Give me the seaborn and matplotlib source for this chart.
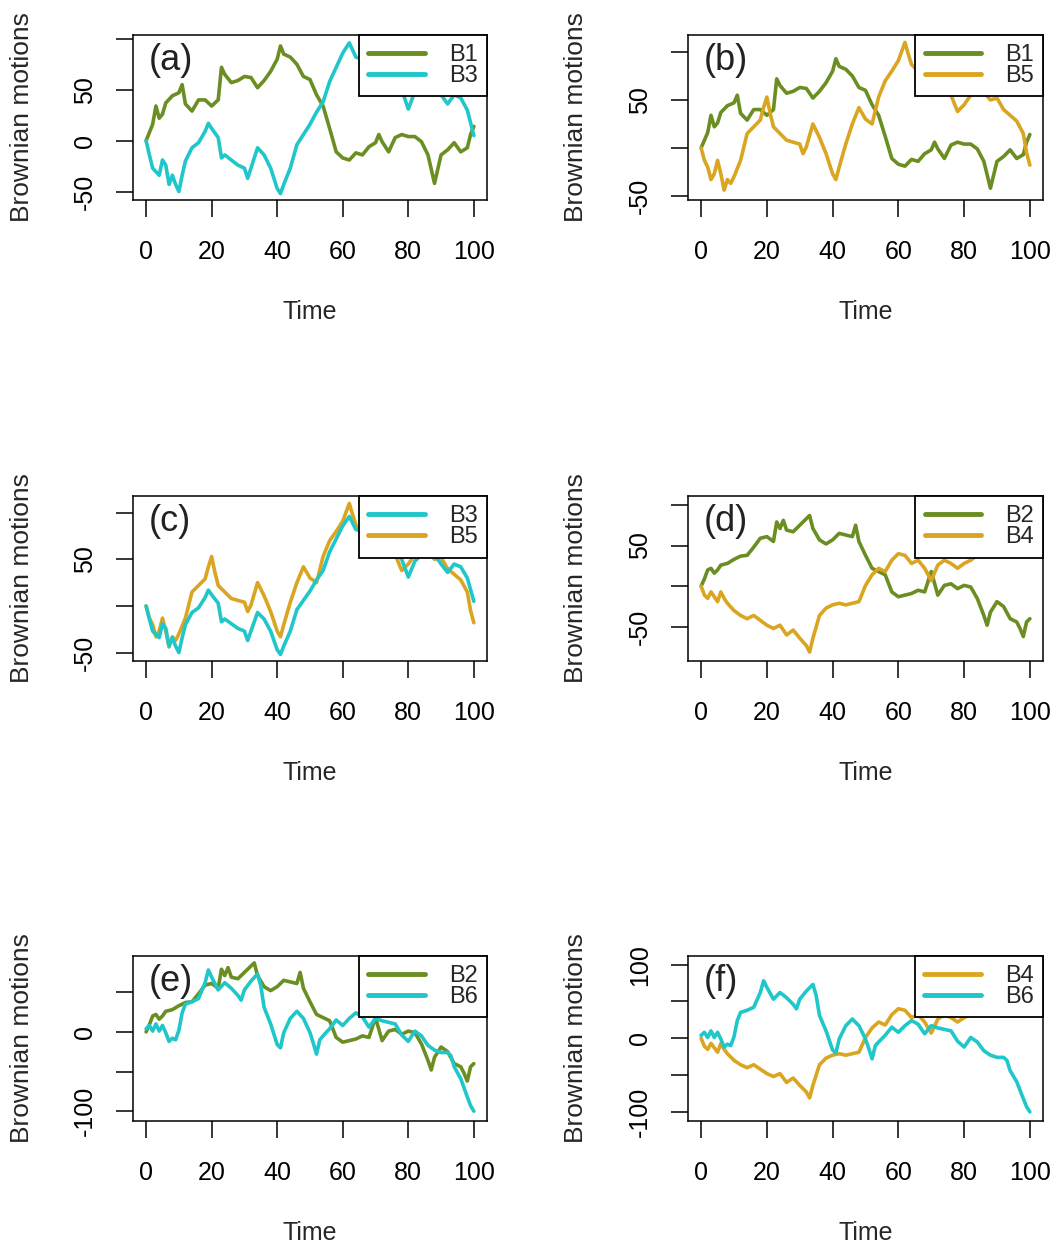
import matplotlib
matplotlib.use('Agg')
import matplotlib.pyplot as plt
import seaborn as sns

# --- Values (time, value) ---
b1_t = [0, 2, 3, 4, 5, 6, 8, 10, 11, 12, 14, 16, 18, 20, 22, 23, 24, 26, 28, 30,
        32, 34, 36, 38, 40, 41, 42, 44, 46, 48, 50, 52, 54, 56, 58, 60, 62, 64, 66, 68,
        70, 71, 72, 74, 76, 78, 80, 82, 84, 86, 88, 90, 92, 94, 96, 98, 99, 100]
b1_y = [0, 16, 34, 22, 26, 37, 44, 47, 55, 36, 29, 40, 40, 34, 40, 72, 65, 57, 59, 63,
        62, 52, 59, 68, 80, 93, 85, 82, 75, 63, 60, 45, 34, 12, -11, -17, -19, -12, -14, -6,
        -2, 6, -1, -11, 3, 6, 4, 4, -1, -14, -42, -14, -9, -2, -11, -7, 6, 14]

b3_t = [0, 1, 2, 4, 5, 6, 7, 8, 9, 10, 11, 12, 14, 16, 18, 19, 20, 22, 23, 24,
        26, 28, 30, 31, 32, 34, 36, 38, 40, 41, 42, 44, 46, 48, 50, 52, 54, 56, 58, 60,
        62, 64, 66, 68, 70, 72, 74, 76, 78, 80, 82, 84, 86, 88, 90, 92, 94, 96, 98, 100]
b3_y = [0, -14, -27, -34, -19, -24, -43, -34, -43, -50, -34, -20, -7, -2, 9, 17, 12, 3, -17, -14,
        -19, -24, -27, -37, -27, -7, -14, -27, -47, -52, -43, -27, -4, 6, 16, 28, 38, 58, 72, 86,
        96, 82, 80, 75, 70, 72, 65, 58, 50, 31, 48, 55, 60, 55, 45, 36, 45, 42, 30, 5]

b5_t = [0, 1, 2, 3, 4, 5, 6, 7, 8, 9, 10, 12, 14, 16, 18, 19, 20, 21, 22, 24,
        26, 28, 30, 31, 32, 34, 36, 38, 40, 41, 42, 44, 46, 48, 50, 52, 54, 56, 58, 60,
        62, 63, 64, 66, 68, 70, 72, 74, 76, 78, 80, 82, 84, 86, 88, 90, 92, 94, 96, 98, 99, 100]
b5_y = [0, -13, -20, -33, -27, -13, -27, -44, -33, -37, -30, -13, 15, 22, 29, 42, 53, 36, 22, 15,
        8, 6, 4, -6, 1, 25, 11, -6, -27, -33, -20, 4, 25, 42, 30, 25, 53, 70, 80, 91,
        110, 98, 87, 80, 72, 68, 66, 62, 55, 38, 45, 55, 60, 58, 50, 52, 40, 34, 28, 15, -5, -18]

b2_t = [0, 1, 2, 3, 4, 5, 6, 8, 10, 12, 14, 16, 18, 20, 22, 23, 24, 25, 26, 28,
        30, 32, 33, 34, 36, 38, 40, 42, 44, 46, 47, 48, 50, 52, 54, 56, 58, 60, 62, 64,
        66, 68, 70, 72, 74, 76, 78, 80, 82, 84, 86, 87, 88, 90, 92, 94, 96, 97, 98, 99, 100]
b2_y = [0, 9, 20, 22, 16, 20, 26, 28, 33, 37, 38, 48, 59, 61, 55, 79, 71, 81, 69, 67,
        75, 83, 87, 71, 57, 52, 57, 65, 63, 61, 75, 55, 38, 22, 18, 14, -7, -13, -11, -9,
        -5, -7, 18, -11, 1, 3, -3, 1, -1, -15, -36, -48, -32, -19, -25, -40, -44, -52, -62, -44, -40]

b4_t = [0, 1, 2, 3, 4, 5, 6, 7, 8, 10, 12, 14, 16, 18, 20, 22, 24, 26, 28, 30,
        32, 33, 34, 36, 38, 40, 42, 44, 46, 48, 50, 52, 54, 56, 58, 60, 62, 64, 66, 68,
        70, 72, 74, 76, 78, 80, 82, 84, 86, 88, 90, 92, 94, 96, 98, 100]
b4_y = [0, -11, -15, -7, -13, -19, -7, -15, -21, -30, -36, -40, -36, -42, -48, -52, -48, -60, -54, -64,
        -73, -81, -64, -36, -27, -23, -21, -23, -21, -19, 1, 14, 22, 18, 32, 40, 38, 28, 32, 22,
        7, 26, 32, 28, 22, 28, 32, 38, 45, 55, 62, 70, 80, 88, 95, 102]

b6_t = [0, 1, 2, 3, 4, 5, 6, 7, 8, 9, 10, 11, 12, 14, 16, 18, 19, 20, 22, 24,
        26, 28, 29, 30, 32, 34, 35, 36, 38, 40, 41, 42, 44, 46, 48, 50, 51, 52, 53, 54,
        56, 58, 60, 62, 64, 66, 68, 70, 72, 74, 76, 78, 80, 82, 84, 86, 88, 90, 92, 93,
        94, 96, 98, 99, 100]
b6_y = [4, 8, 1, 10, 1, 8, -1, -12, -8, -10, 2, 24, 35, 38, 42, 62, 78, 69, 53, 62,
        55, 46, 40, 53, 64, 73, 58, 31, 10, -16, -20, -1, 17, 26, 17, -1, -14, -28, -10, -5,
        4, 15, 8, 17, 24, 19, 6, 17, 14, 12, 10, -4, -12, 1, -5, -17, -23, -26, -26, -30,
        -44, -59, -82, -93, -100]

GREEN = '#6B8E23'
CYAN = '#1FC6CA'
GOLD = '#DAA520'

series = {
    'B1': (b1_t, b1_y, GREEN),
    'B2': (b2_t, b2_y, GREEN),
    'B3': (b3_t, b3_y, CYAN),
    'B4': (b4_t, b4_y, GOLD),
    'B5': (b5_t, b5_y, GOLD),
    'B6': (b6_t, b6_y, CYAN),
}

sns.set_style('ticks')
plt.rcParams['font.family'] = ['Liberation Sans', 'DejaVu Sans']

fig = plt.figure(figsize=(10.63, 12.49), dpi=100)


def draw_panel(rect, tag, names, ylim, yticks, ylabels):
    """One boxed panel with two paths and a legend in the top right corner."""
    ax = fig.add_axes(rect)
    for name in names:
        t, y, col = series[name]
        sns.lineplot(x=t, y=y, ax=ax, color=col, lw=2.6, label=name,
                     sort=False, estimator=None, zorder=3 if col == CYAN else 2)

    ax.set_xlim(-4, 104)
    ax.set_ylim(*ylim)
    ax.set_xticks([0, 20, 40, 60, 80, 100])
    ax.set_yticks(yticks, ylabels)
    ax.tick_params(direction='out', length=12, width=1.1, labelsize=18, colors='black')
    ax.tick_params(axis='x', pad=17)
    ax.tick_params(axis='y', pad=14)
    for lab in ax.get_yticklabels():
        lab.set_rotation(90)
        lab.set_va('center')
    for sp in ax.spines.values():
        sp.set_visible(True)
        sp.set_linewidth(1.1)
        sp.set_color('black')

    ax.set_xlabel('Time', fontsize=18, va='center')
    ax.xaxis.set_label_coords(0.5, -0.68)
    ax.set_ylabel('Brownian motions', fontsize=19, va='center')
    ax.yaxis.set_label_coords(-0.314, 0.5)

    ax.text(0.045, 0.845, tag, transform=ax.transAxes, fontsize=26,
            ha='left', va='center', color='#222222', zorder=6)

    leg = ax.legend(loc='upper right', borderaxespad=0, frameon=True, fancybox=False,
                    framealpha=1, edgecolor='black', fontsize=17, handlelength=2.4,
                    handletextpad=1.0, borderpad=0.4, labelspacing=-0.05)
    leg.get_frame().set_linewidth(1.3)
    for h in leg.get_lines():
        h.set_linewidth(3.5)
    return ax


# --- Layout: 3 rows x 2 columns of fixed boxes ---
left_col = [0.1251, 0.3330]
right_col = [0.6472, 0.3340]
row_bottoms = [0.8401, 0.4708, 0.1027]
h = 0.1321

draw_panel([left_col[0], row_bottoms[0], left_col[1], h], '(a)', ['B1', 'B3'],
           (-58, 104), [-50, 0, 50, 100], ['-50', '0', '50', ''])
draw_panel([right_col[0], row_bottoms[0], right_col[1], h], '(b)', ['B1', 'B5'],
           (-54, 118), [-50, 0, 50, 100], ['-50', '', '50', ''])
draw_panel([left_col[0], row_bottoms[1], left_col[1], h], '(c)', ['B3', 'B5'],
           (-59, 118), [-50, 0, 50, 100], ['-50', '', '50', ''])
draw_panel([right_col[0], row_bottoms[1], right_col[1], h], '(d)', ['B2', 'B4'],
           (-92, 111), [-50, 0, 50, 100], ['-50', '', '50', ''])
draw_panel([left_col[0], row_bottoms[2], left_col[1], h], '(e)', ['B2', 'B6'],
           (-112, 96), [-100, -50, 0, 50], ['-100', '', '0', ''])
draw_panel([right_col[0], row_bottoms[2], right_col[1], h], '(f)', ['B4', 'B6'],
           (-112, 112), [-100, -50, 0, 50, 100], ['-100', '', '0', '', '100'])

plt.savefig('out.png', dpi=100)
plt.close()
